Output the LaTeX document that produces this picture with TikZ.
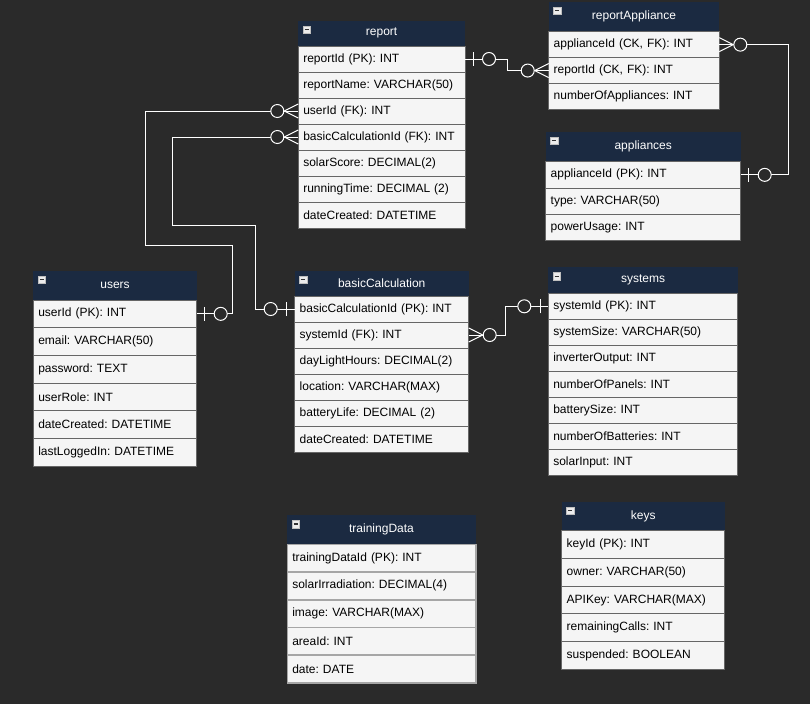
\documentclass[tikz,border=0pt]{standalone}
\usepackage{fontspec}
\setmainfont{Liberation Sans}
\frenchspacing
\usetikzlibrary{calc}
\definecolor{canvas}{HTML}{2A2A2A}
\definecolor{headblue}{HTML}{1B2A41}
\definecolor{rowfill}{HTML}{F5F5F5}
\definecolor{rowline}{HTML}{666666}
\newlength\rowtextw
% table: [row options], name, top left, width, header height, row height, title, rows
\newcommand{\ertable}[8][]{%
  \node[tbl head, minimum width=#4pt, minimum height=#5pt, anchor=north west] (#2) at #3 {#7};
  \node[tbl minus, anchor=north west] (#2-minus) at ([shift={(4.5,5)}]#2.north west) {};
  \setlength\rowtextw{\dimexpr#4pt-10pt\relax}
  \foreach \txt [count=\i] in {#8}
    \node[tbl row, #1, minimum height=#6pt, text width=\rowtextw, anchor=north west]
      (#2-\i) at ($(#2.south west)+(0,{(\i-1)*#6})$) {\txt};
}
\tikzset{
  tbl head/.style={fill=headblue, text=white, inner sep=0, outer sep=0, font=\fontsize{12}{14}\selectfont},
  tbl row/.style={draw=rowline, fill=rowfill, text=black, line width=1pt, inner xsep=5pt, inner ysep=0,
    outer sep=0, align=left, font=\fontsize{12}{14}\selectfont},
  tbl minus/.style={fill=gray!15, draw=gray!50, minimum size=7.5pt, inner sep=0,
    path picture={\draw[black!80, line width=1.2pt] ([xshift=1.5pt]path picture bounding box.west)
      -- ([xshift=-1.5pt]path picture bounding box.east);}},
  conn/.style={draw=white, line width=1pt},
  zero one/.pic={
    \draw[conn] (8,-7) -- (8,7);
    \draw[conn, fill=canvas] (24,0) circle (6.5);
  },
  zero many/.pic={
    \draw[conn] (0,-7) -- (14,0) -- (0,7);
    \draw[conn, fill=canvas] (21,0) circle (6.5);
  },
}
\begin{document}
\begin{tikzpicture}[x=1pt, y=-1pt]
\fill[canvas] (0,0) rectangle (810,704);
\useasboundingbox (0,0) rectangle (810,704);

\ertable{report}{(298.3,20.7)}{166.7}{25.3}{26}{report}{reportId (PK): INT, reportName: VARCHAR(50),
  userId (FK): INT, basicCalculationId (FK): INT, solarScore: DECIMAL(2), runningTime: DECIMAL (2),
  dateCreated: DATETIME}
\ertable{reportAppliance}{(548.7,1.7)}{170.6}{30}{25.9}{reportAppliance}{{applianceId (CK, FK): INT},
  {reportId (CK, FK): INT}, numberOfAppliances: INT}
\ertable{appliances}{(545.7,131.7)}{195}{30}{26.3}{appliances}{applianceId (PK): INT, type: VARCHAR(50),
  powerUsage: INT}
\ertable{users}{(33.3,270.7)}{163.4}{29.3}{27.7}{users}{userId (PK): INT, email: VARCHAR(50),
  password: TEXT, userRole: INT, dateCreated: DATETIME, lastLoggedIn: DATETIME}
\ertable{basicCalculation}{(294.7,270.7)}{174}{25.3}{26}{basicCalculation}{basicCalculationId (PK): INT,
  systemId (FK): INT, dayLightHours: DECIMAL(2), location: VARCHAR(MAX), batteryLife: DECIMAL (2),
  dateCreated: DATETIME}
\ertable{systems}{(548.3,267.3)}{189.4}{26}{26}{systems}{systemId (PK): INT, systemSize: VARCHAR(50),
  inverterOutput: INT, numberOfPanels: INT, batterySize: INT, numberOfBatteries: INT, solarInput: INT}
\ertable[draw=gray!70, line width=1.6pt]{trainingData}{(287.3,515)}{188.4}{29.3}{27.7}{trainingData}{trainingDataId (PK): INT,
  solarIrradiation: DECIMAL(4), image: VARCHAR(MAX), areaId: INT, date: DATE}
\ertable{keys}{(561.7,501.7)}{163}{29}{27.7}{keys}{keyId (PK): INT, owner: VARCHAR(50),
  APIKey: VARCHAR(MAX), remainingCalls: INT, suspended: BOOLEAN}

% relations
\draw[conn] (report-1.east) -- ++(42,0) |- (reportAppliance-2.west);
\draw[conn] (reportAppliance-1.east) -- ++(69,0) |- (appliances-1.east);
\draw[conn] (users-1.east) -- ++(36,0) |- (145.7,245.7) |- (report-3.west);
\draw[conn] (basicCalculation-1.west) -- ++(-39.4,0) |- (172.3,225.3) |- (report-4.west);
\draw[conn] (basicCalculation-2.east) -- ++(37,0) |- (systems-1.west);

\pic at (report-1.east) {zero one};
\pic[rotate=180] at (reportAppliance-2.west) {zero many};
\pic at (reportAppliance-1.east) {zero many};
\pic at (appliances-1.east) {zero one};
\pic at (users-1.east) {zero one};
\pic[rotate=180] at (report-3.west) {zero many};
\pic[rotate=180] at (report-4.west) {zero many};
\pic[rotate=180] at (basicCalculation-1.west) {zero one};
\pic at (basicCalculation-2.east) {zero many};
\pic[rotate=180] at (systems-1.west) {zero one};
\end{tikzpicture}
\end{document}
